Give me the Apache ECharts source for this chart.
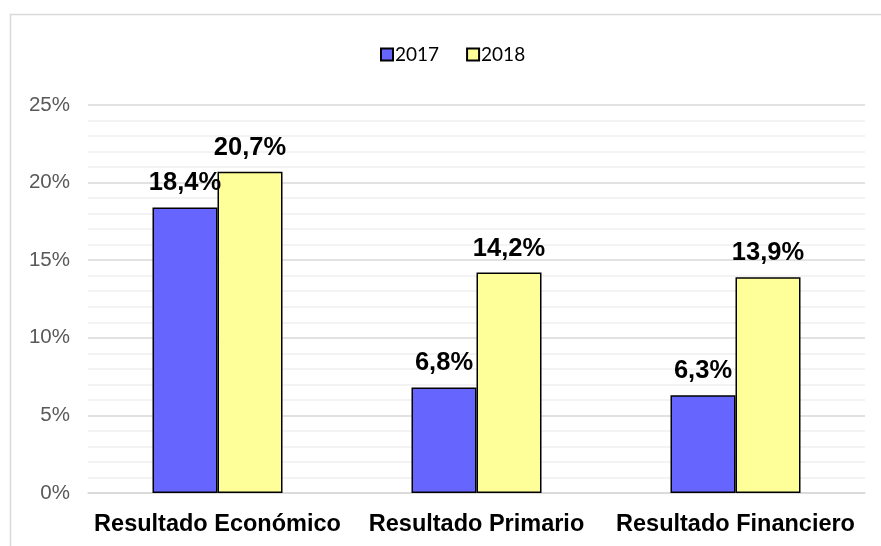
<!DOCTYPE html>
<html>
<head>
<meta charset="utf-8">
<script src="https://cdn.jsdelivr.net/npm/echarts@6/dist/echarts.min.js"></script>
<style>
  html, body { margin: 0; padding: 0; background: #fff; }
  #main { width: 881px; height: 546px; }
</style>
</head>
<body>
<div id="main"></div>
<script>
// datos del grafico
var categorias = ['Resultado Económico', 'Resultado Primario', 'Resultado Financiero'];
var serie2017 = [18.4, 6.8, 6.3];
var serie2018 = [20.7, 14.2, 13.9];
var nombres = ['2017', '2018'];

var chart = echarts.init(document.getElementById('main'));

var fmtEtiqueta = function (p) {
    return p.value.toFixed(1).replace('.', ',') + '%';
};

var etiqueta = {
    show: true,
    position: 'top',
    distance: 11,
    color: '#000',
    fontFamily: 'Liberation Sans, Arial',
    fontWeight: 'bold',
    fontSize: 25.5,
    formatter: fmtEtiqueta
};

chart.setOption({
    animation: false,
    backgroundColor: '#fff',
    graphic: [{
        type: 'rect',
        shape: {x: 10.5, y: 14.5, width: 900, height: 600},
        style: {fill: 'none', stroke: '#d9d9d9', lineWidth: 1.5},
        z: -10
    }],
    legend: {
        top: 40,
        left: 375,
        itemWidth: 12,
        itemHeight: 12,
        itemGap: 27,
        icon: 'rect',
        textStyle: {fontFamily: 'Lato, Liberation Sans', fontSize: 19, color: '#000', padding: [0, 0, 0, -3]},
        data: nombres
    },
    grid: {left: 88, right: 16, top: 105, bottom: 53, containLabel: false},
    xAxis: {
        type: 'category',
        data: categorias,
        axisTick: {show: false},
        axisLine: {lineStyle: {color: '#d9d9d9', width: 1.5}},
        axisLabel: {
            interval: 0,
            hideOverlap: false,
            margin: 20,
            color: '#000',
            fontFamily: 'Liberation Sans, Arial',
            fontWeight: 'bold',
            fontSize: 23.5
        }
    },
    yAxis: {
        type: 'value',
        min: 0,
        max: 25,
        interval: 5,
        axisLine: {show: false},
        axisTick: {show: false},
        axisLabel: {
            margin: 18,
            color: '#595959',
            fontFamily: 'Liberation Sans, Arial',
            fontSize: 20.5,
            formatter: '{value}%'
        },
        splitLine: {lineStyle: {color: '#d9d9d9', width: 1.5}},
        minorTick: {show: false, splitNumber: 5},
        minorSplitLine: {show: true, lineStyle: {color: '#f0f0f0', width: 1.5}}
    },
    series: [
        {
            name: nombres[0],
            type: 'bar',
            data: serie2017,
            barWidth: 65,
            barGap: '0%',
            itemStyle: {color: '#6666ff', borderColor: '#000', borderWidth: 1.5},
            label: etiqueta
        },
        {
            name: nombres[1],
            type: 'bar',
            data: serie2018,
            barWidth: 65,
            barGap: '0%',
            itemStyle: {color: '#ffff99', borderColor: '#000', borderWidth: 1.5},
            label: etiqueta
        }
    ]
});
</script>
</body>
</html>
